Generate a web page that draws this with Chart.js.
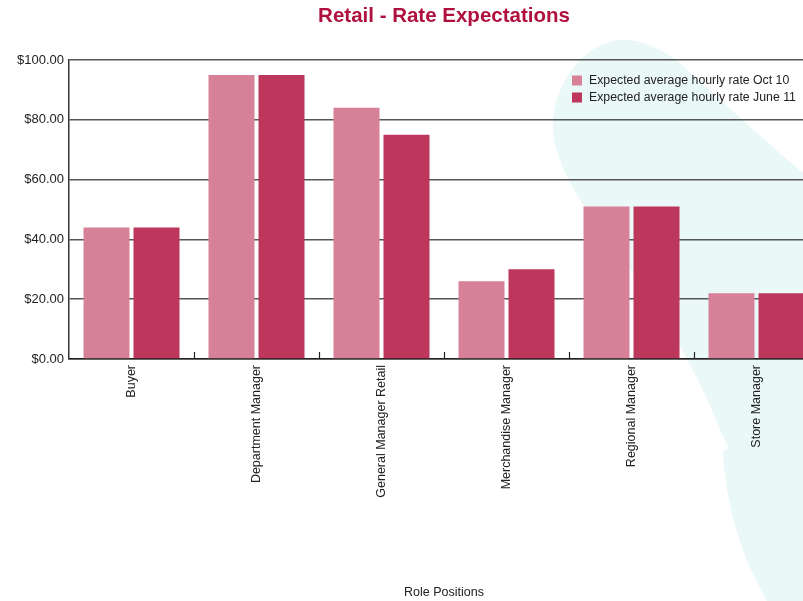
<!DOCTYPE html>
<html>
<head>
<meta charset="utf-8">
<title>Retail - Rate Expectations</title>
<script src="https://cdn.jsdelivr.net/npm/chart.js@4.4.1/dist/chart.umd.min.js"></script>
<style>
  html, body { margin: 0; padding: 0; background: #fff; overflow: hidden; }
  #wrap { width: 820px; height: 601px; }
</style>
</head>
<body>
<div id="wrap"><canvas id="rates" width="820" height="601"></canvas></div>
<script>
const roles = [
  "Buyer",
  "Department Manager",
  "General Manager Retail",
  "Merchandise Manager",
  "Regional Manager",
  "Store Manager",
];
const rateOct10 = [44, 95, 84, 26, 51, 22];
const rateJune11 = [44, 95, 75, 30, 51, 22];
const yTicks = [0, 20, 40, 60, 80, 100];

const FONT = "'Liberation Sans', Arial, sans-serif";
const TEXT = "#222";

// soft cyan swoosh behind the plot
const backdrop = {
  id: "backdrop",
  beforeDraw(chart) {
    const { ctx } = chart;
    ctx.save();
    ctx.fillStyle = "#ebf8f8";
    ctx.beginPath();
    ctx.moveTo(820, 188);
    ctx.lineTo(803, 173);
    ctx.bezierCurveTo(770, 145, 715, 95, 680, 63);
    ctx.bezierCurveTo(660, 48, 640, 38, 618, 40);
    ctx.bezierCurveTo(585, 44, 557, 80, 553, 118);
    ctx.bezierCurveTo(550, 160, 580, 205, 625, 262);
    ctx.bezierCurveTo(660, 310, 695, 365, 720, 430);
    ctx.lineTo(729, 448);
    ctx.lineTo(723, 451);
    ctx.bezierCurveTo(725, 500, 740, 555, 767, 601);
    ctx.lineTo(820, 601);
    ctx.closePath();
    ctx.fill();
    ctx.restore();
  },
};

// short upward marks between categories on the baseline
const categoryMarks = {
  id: "categoryMarks",
  afterDatasetsDraw(chart) {
    const { ctx } = chart;
    const x = chart.scales.x;
    const bottom = chart.chartArea.bottom;
    ctx.save();
    ctx.strokeStyle = "#222";
    ctx.lineWidth = 1.2;
    for (let i = 1; i < roles.length; i++) {
      const px = Math.round((x.getPixelForTick(i - 1) + x.getPixelForTick(i)) / 2) + 0.5;
      ctx.beginPath();
      ctx.moveTo(px, bottom);
      ctx.lineTo(px, bottom - 7);
      ctx.stroke();
    }
    ctx.restore();
  },
};

// legend sits inside the plot, top right
const innerLegend = {
  id: "innerLegend",
  afterDraw(chart) {
    const { ctx } = chart;
    ctx.save();
    ctx.font = "12.3px " + FONT;
    ctx.textBaseline = "middle";
    chart.data.datasets.forEach((ds, i) => {
      const y = 80.5 + i * 17;
      ctx.fillStyle = ds.backgroundColor;
      ctx.fillRect(572, y - 5, 10, 10);
      ctx.fillStyle = TEXT;
      ctx.fillText(ds.label, 589, y);
    });
    ctx.restore();
  },
};

new Chart(document.getElementById("rates"), {
  type: "bar",
  data: {
    labels: roles,
    datasets: [
      {
        label: "Expected average hourly rate Oct 10",
        data: rateOct10,
        backgroundColor: "#d78199",
        borderWidth: 0,
      },
      {
        label: "Expected average hourly rate June 11",
        data: rateJune11,
        backgroundColor: "#bc375b",
        borderWidth: 0,
      },
    ],
  },
  options: {
    responsive: false,
    animation: false,
    layout: { padding: { left: 0, right: 1, top: 0, bottom: 0 } },
    datasets: {
      bar: { categoryPercentage: 0.8, barPercentage: 0.92 },
    },
    scales: {
      x: {
        offset: true,
        grid: { display: false, drawTicks: false },
        border: { display: true, color: "#222", width: 1.5 },
        ticks: {
          autoSkip: false,
          minRotation: 90,
          maxRotation: 90,
          padding: 6,
          color: TEXT,
          font: { family: FONT, size: 12.5 },
        },
        title: {
          display: true,
          text: "Role Positions",
          color: TEXT,
          font: { family: FONT, size: 12.5 },
          padding: { top: 0, bottom: 1 },
        },
        afterFit: (scale) => {
          scale.height = 242;
        },
      },
      y: {
        min: 0,
        max: 100,
        afterBuildTicks: (scale) => {
          scale.ticks = yTicks.map((value) => ({ value }));
        },
        grid: { color: "#555", lineWidth: 1.5, drawTicks: false },
        border: { display: true, color: "#333", width: 1.5 },
        ticks: {
          padding: 5,
          color: TEXT,
          font: { family: FONT, size: 13 },
          callback: (value) => "$" + Number(value).toFixed(2),
        },
        afterFit: (scale) => {
          scale.width = 69;
        },
      },
    },
    plugins: {
      legend: { display: false },
      tooltip: { enabled: false },
      title: {
        display: true,
        fullSize: false,
        text: "Retail - Rate Expectations",
        color: "#b0103e",
        font: { family: FONT, size: 20.5, weight: "bold", lineHeight: 1.2 },
        padding: { top: 4, bottom: 31.4 },
      },
    },
  },
  plugins: [backdrop, categoryMarks, innerLegend],
});
</script>
</body>
</html>
